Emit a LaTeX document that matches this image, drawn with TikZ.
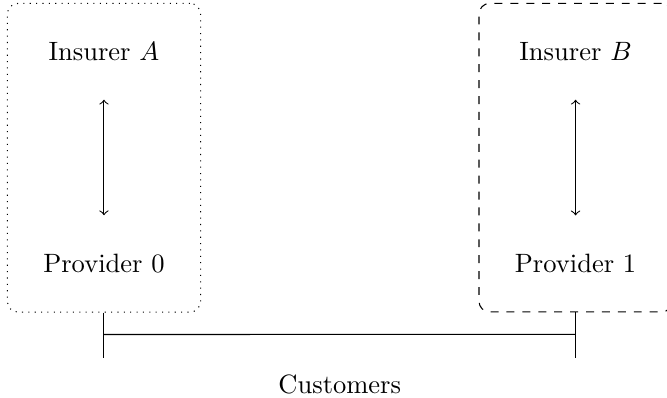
\documentclass[tikz,border=0pt]{standalone}
\usepackage{tikz}
\usetikzlibrary{positioning,fit}
\usepackage{xcolor}

\begin{document}
\begin{tikzpicture}[
    node distance=2.8cm and 6.25cm,
    on grid,
    groupbox/.style={rounded corners=4pt, inner xsep=10pt, inner ysep=11.3pt},
    link/.style={<->, shorten >=11pt, shorten <=11pt}
  ]
  \useasboundingbox (-39.2pt,19.6pt) rectangle (212.3pt,-130.1pt);
  % Nodes
  \node (insA) {Insurer $A$};
  \node[below=of insA] (prov0) {Provider 0};
  \node[right=of insA] (insB) {Insurer $B$};
  \node[below=of insB] (prov1) {Provider 1};

  % Boxes
  \node[groupbox, draw, dotted, fit=(insA) (prov0)] (box0) {};
  \node[groupbox, draw, dashed, fit=(insB) (prov1)] (box1) {};

  % Arrows
  \draw[link] (insA) -- (prov0);
  \draw[link] (insB) -- (prov1);

  % Customers
  \coordinate[below=0.29cm of box0.south] (mid0);
  \coordinate[below=0.6cm of box0.south] (end0);
  \coordinate[below=0.29cm of box1.south] (mid1);
  \coordinate[below=0.6cm of box1.south] (end1);
  \draw (box0.south) -- (end0);
  \draw (box1.south) -- (end1);
  \draw (mid0) -- (mid1) node[midway, below=0.41cm] (cust) {Customers};
\end{tikzpicture}
\end{document}
